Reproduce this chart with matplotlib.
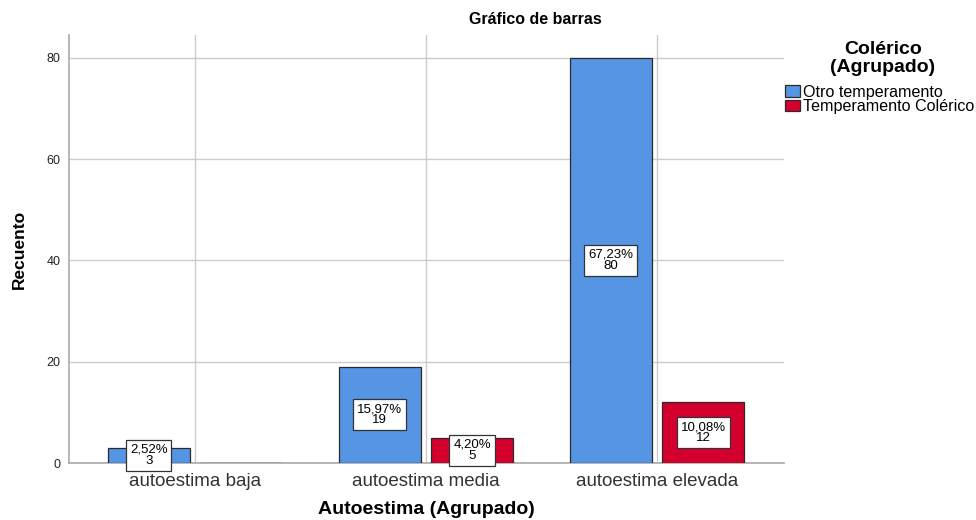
import matplotlib.pyplot as plt
import numpy as np
from matplotlib.patches import Patch

plt.rcParams['font.family'] = ['Liberation Sans', 'DejaVu Sans']

# datos
categorias = ["autoestima baja", "autoestima media", "autoestima elevada"]
otro = [3, 19, 80]
colerico = [0, 5, 12]
pct_otro = ["2,52%", "15,97%", "67,23%"]
pct_colerico = ["", "4,20%", "10,08%"]
series = ["Otro temperamento", "Temperamento Colérico"]

azul = "#5595e3"
rojo = "#d3002e"

fig = plt.figure(figsize=(9.76, 5.2), dpi=100)
ax = fig.add_axes([0.0707, 0.1096, 0.7326, 0.8231])

x = np.arange(len(categorias))
w = 0.355
off = 0.2
b1 = ax.bar(x - off, otro, w, color=azul, edgecolor="#2a2a2a", linewidth=0.9, zorder=3)
b2 = ax.bar(x + off, colerico, w, color=rojo, edgecolor="#2a2a2a", linewidth=0.9, zorder=3)

caja = dict(boxstyle="square,pad=0.3", fc="white", ec="#333333", lw=0.9)
for xi, v, p in zip(x - off, otro, pct_otro):
    if v > 0:
        ax.text(xi, v / 2, f"{p}\n{v}", ha="center", va="center", fontsize=9.5,
                linespacing=0.9, bbox=caja, zorder=4)
for xi, v, p in zip(x + off, colerico, pct_colerico):
    if v > 0:
        ax.text(xi, v / 2, f"{p}\n{v}", ha="center", va="center", fontsize=9.5,
                linespacing=0.9, bbox=caja, zorder=4)

ax.set_xlim(-0.545, 2.55)
ax.set_ylim(0, 84.5)
ax.set_yticks([0, 20, 40, 60, 80])
ax.set_xticks(x)
ax.set_xticklabels(categorias, fontsize=13.5, color="#333333")
ax.tick_params(axis="y", labelsize=9, length=0, pad=6, colors="#222222")
ax.tick_params(axis="x", length=0, pad=7)
ax.grid(True, color="#cccccc", linewidth=1, zorder=0)
ax.set_axisbelow(True)
for s in ["top", "right"]:
    ax.spines[s].set_visible(False)
for s in ["left", "bottom"]:
    ax.spines[s].set_color("#aaaaaa")
    ax.spines[s].set_linewidth(1.2)

ax.set_ylabel("Recuento", fontsize=12.5, fontweight="bold", labelpad=14)
ax.set_xlabel("Autoestima (Agrupado)", fontsize=14, fontweight="bold", labelpad=8)
fig.text(535 / 976, 1 - 20 / 520, "Gráfico de barras", ha="center", va="center",
         fontsize=11.5, fontweight="bold")

# leyenda
fig.text(883 / 976, 1 - 50 / 520, "Colérico", ha="center", va="center",
         fontsize=14, fontweight="bold")
fig.text(883 / 976, 1 - 68 / 520, "(Agrupado)", ha="center", va="center",
         fontsize=14, fontweight="bold")
handles = [Patch(fc=azul, ec="#2a2a2a", lw=0.9), Patch(fc=rojo, ec="#2a2a2a", lw=0.9)]
fig.legend(handles, series, loc="upper left", bbox_to_anchor=(785 / 976, 1 - 85 / 520),
           frameon=False, fontsize=11.6, handlelength=0.9, handleheight=0.75,
           handletextpad=0.2, labelspacing=-0.05, borderaxespad=0, borderpad=0)

fig.savefig("out.png", dpi=100)
